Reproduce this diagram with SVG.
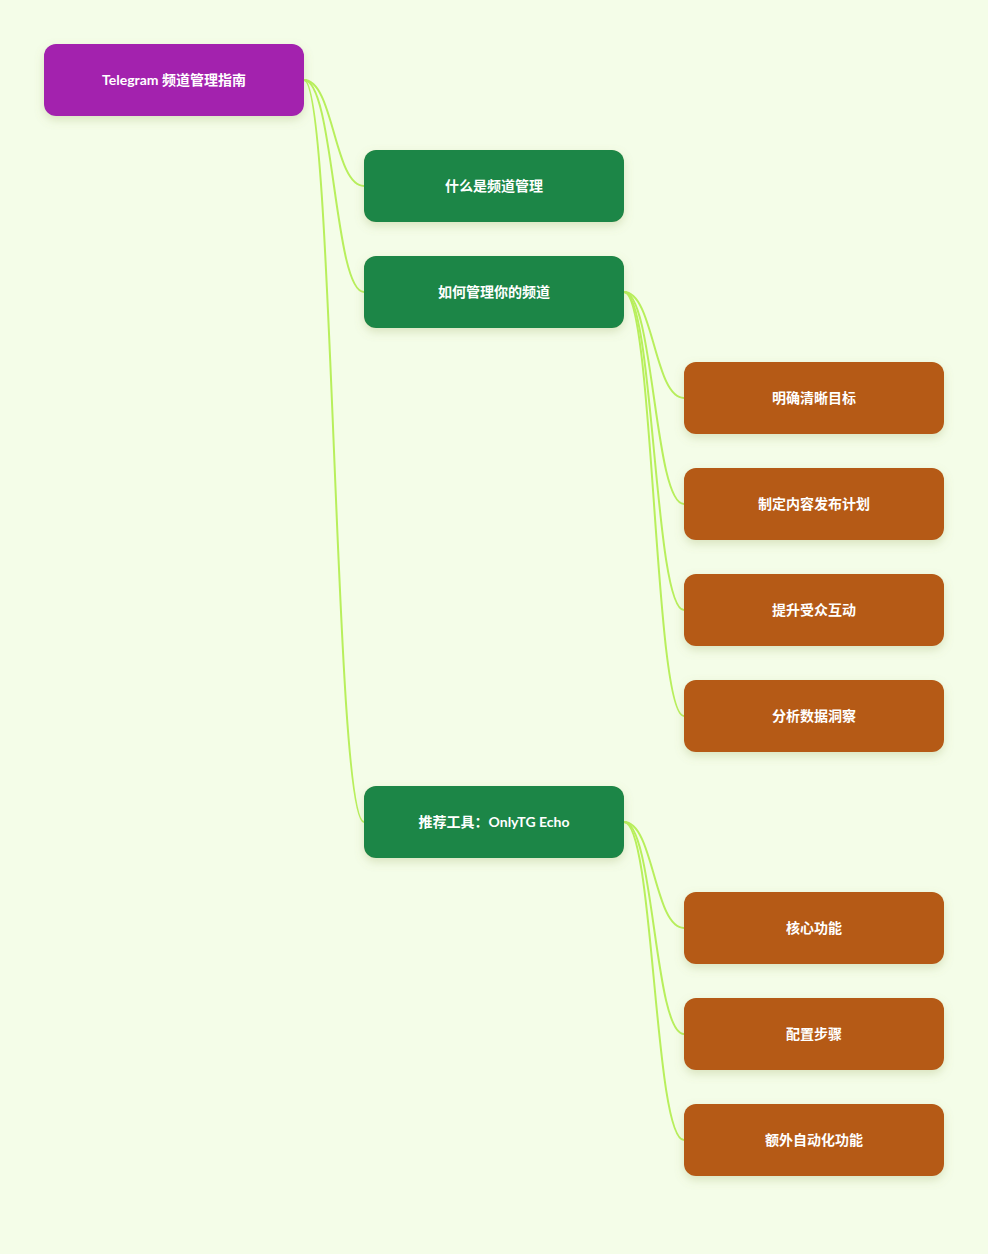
<svg xmlns="http://www.w3.org/2000/svg" width="988" height="1254" viewBox="0 0 988 1254">
<defs>
<filter id="sh" x="-20%" y="-30%" width="140%" height="170%">
<feDropShadow dx="0" dy="4" stdDeviation="5" flood-color="#9aa860" flood-opacity="0.3"/>
</filter>
<style>
.n rect{filter:url(#sh)}
.r{fill:#a323ae}
.g{fill:#1f8646}
.o{fill:#b55a18}
text{fill:#ffffff;font-family:"Lato","Noto Sans CJK SC",sans-serif;font-size:14px;font-weight:bold;text-anchor:middle;dominant-baseline:central}
#edges path{fill:none;stroke:#b8ef5c;stroke-width:2}
</style>
</defs>
<rect width="988" height="1254" fill="#f4fde8"/>
<g id="edges">
<path d="M304 80 C334 80 334 186 364 186"/>
<path d="M304 80 C334 80 334 292 364 292"/>
<path d="M304 80 C334 80 334 822 364 822"/>
<path d="M624 292 C654 292 654 398 684 398"/>
<path d="M624 292 C654 292 654 504 684 504"/>
<path d="M624 292 C654 292 654 610 684 610"/>
<path d="M624 292 C654 292 654 716 684 716"/>
<path d="M624 822 C654 822 654 928 684 928"/>
<path d="M624 822 C654 822 654 1034 684 1034"/>
<path d="M624 822 C654 822 654 1140 684 1140"/>
</g>
<g id="root" class="n"><rect class="r" x="44" y="44" width="260" height="72" rx="12"/><text x="174" y="79">Telegram 频道管理指南</text></g>
<g id="n1" class="n"><rect class="g" x="364" y="150" width="260" height="72" rx="12"/><text x="494" y="185">什么是频道管理</text></g>
<g id="n2" class="n"><rect class="g" x="364" y="256" width="260" height="72" rx="12"/><text x="494" y="291">如何管理你的频道</text></g>
<g id="n3" class="n"><rect class="g" x="364" y="786" width="260" height="72" rx="12"/><text x="494" y="821">推荐工具：OnlyTG Echo</text></g>
<g id="n21" class="n"><rect class="o" x="684" y="362" width="260" height="72" rx="12"/><text x="814" y="397">明确清晰目标</text></g>
<g id="n22" class="n"><rect class="o" x="684" y="468" width="260" height="72" rx="12"/><text x="814" y="503">制定内容发布计划</text></g>
<g id="n23" class="n"><rect class="o" x="684" y="574" width="260" height="72" rx="12"/><text x="814" y="609">提升受众互动</text></g>
<g id="n24" class="n"><rect class="o" x="684" y="680" width="260" height="72" rx="12"/><text x="814" y="715">分析数据洞察</text></g>
<g id="n31" class="n"><rect class="o" x="684" y="892" width="260" height="72" rx="12"/><text x="814" y="927">核心功能</text></g>
<g id="n32" class="n"><rect class="o" x="684" y="998" width="260" height="72" rx="12"/><text x="814" y="1033">配置步骤</text></g>
<g id="n33" class="n"><rect class="o" x="684" y="1104" width="260" height="72" rx="12"/><text x="814" y="1139">额外自动化功能</text></g>
</svg>
